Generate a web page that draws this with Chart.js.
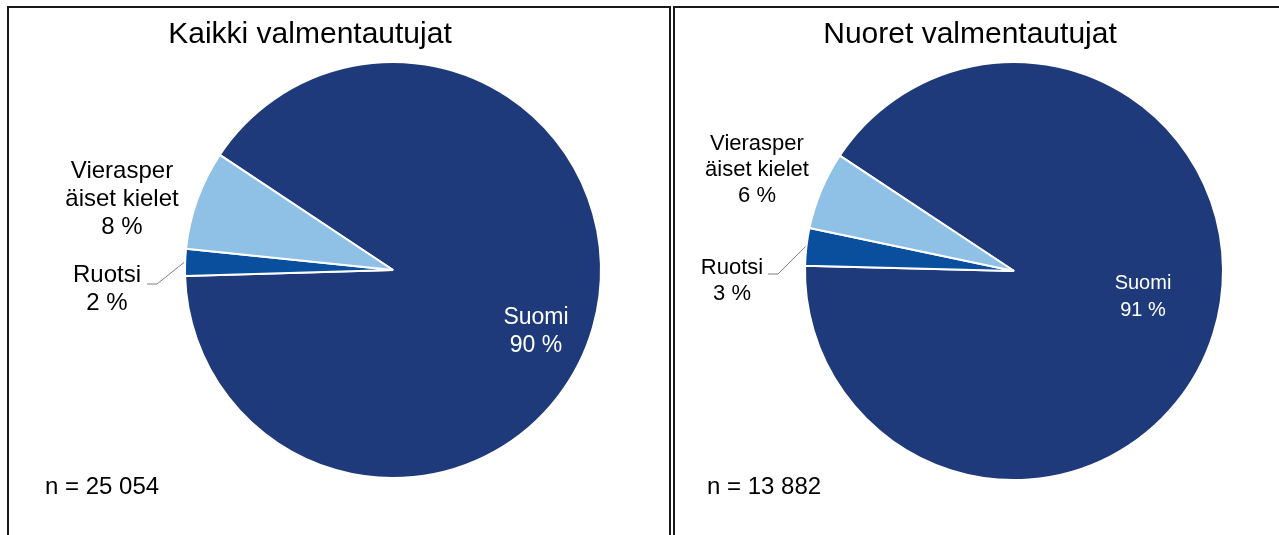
<!DOCTYPE html>
<html>
<head>
<meta charset="utf-8">
<script src="https://cdn.jsdelivr.net/npm/chart.js@4.4.1/dist/chart.umd.min.js"></script>
<style>
html,body{margin:0;padding:0;background:#fff;}
#wrap{position:relative;width:1279px;height:535px;overflow:hidden;}
canvas{position:absolute;left:0;top:0;}
</style>
</head>
<body>
<div id="wrap">
<canvas id="c1" width="1279" height="535"></canvas>
<canvas id="c2" width="1279" height="535"></canvas>
</div>
<script>
// ---- data ----
const categories = ["Suomi", "Ruotsi", "Vieraskieliset"];
const labelLines = [["Suomi"], ["Ruotsi"], ["Vierasper", "äiset kielet"]];
const titles = ["Kaikki valmentautujat", "Nuoret valmentautujat"];
const allValues = [90.2, 2.1, 7.7];      // Kaikki valmentautujat (%)
const youngValues = [91.1, 2.9, 6.0];    // Nuoret valmentautujat (%)
const nLabels = ["n = 25 054", "n = 13 882"];
const colors = ["#1f3a7b", "#0a4f9e", "#8ec1e5"];

const FONT = '"Liberation Sans", Arial, sans-serif';
function pct(v){ return Math.round(v) + " %"; }

function drawText(ctx, lines, x, y, size, color, lh, align){
  ctx.save();
  ctx.font = size + "px " + FONT;
  ctx.fillStyle = color;
  ctx.textAlign = align || "center";
  ctx.textBaseline = "middle";
  lines.forEach((l,i)=>ctx.fillText(l, x, y + i*lh));
  ctx.restore();
}

function makePlugin(cfg){
  return {
    id: "annot" + cfg.idx,
    beforeDraw(chart){
      const ctx = chart.ctx;
      if (cfg.idx === 0) {
        ctx.save();
        ctx.fillStyle = "#fff";
        ctx.fillRect(0,0,chart.width,chart.height);
        ctx.strokeStyle = "#1a1a1a";
        ctx.lineWidth = 2;
        ctx.beginPath();
        ctx.moveTo(8, 540); ctx.lineTo(8, 7); ctx.lineTo(670, 7); ctx.lineTo(670, 540);
        ctx.moveTo(674, 540); ctx.lineTo(674, 7); ctx.lineTo(1285, 7);
        ctx.stroke();
        ctx.restore();
      }
    },
    afterDraw(chart){
      const ctx = chart.ctx;
      const vals = chart.data.datasets[0].data;
      drawText(ctx, [titles[cfg.idx]], cfg.titleX, 35, 30, "#000", 0);
      // Suomi inside label
      drawText(ctx, [labelLines[0][0], pct(vals[0])], cfg.suomi[0], cfg.suomi[1], cfg.inSize, "#fff", cfg.inLh);
      // Ruotsi outside label
      drawText(ctx, [labelLines[1][0], pct(vals[1])], cfg.ruotsi[0], cfg.ruotsi[1], cfg.outSize, "#000", cfg.outLh);
      // Vieraskieliset
      drawText(ctx, [labelLines[2][0], labelLines[2][1], pct(vals[2])], cfg.vieras[0], cfg.vieras[1], cfg.outSize, "#000", cfg.outLh);
      // n
      drawText(ctx, [nLabels[cfg.idx]], cfg.nX, 487, 24, "#000", 0, "left");
      // leader line for Ruotsi to its arc
      const arc = chart.getDatasetMeta(0).data[1];
      const mid = (arc.startAngle + arc.endAngle)/2;
      const ex = arc.x + Math.cos(mid)*arc.outerRadius;
      const ey = arc.y + Math.sin(mid)*arc.outerRadius;
      ctx.save();
      ctx.strokeStyle = "#7f7f7f";
      ctx.lineWidth = 1;
      ctx.beginPath();
      ctx.moveTo(cfg.leader[0], cfg.leader[1]);
      ctx.lineTo(cfg.leader[0] + 10, cfg.leader[1]);
      ctx.lineTo(ex - 1, ey);
      ctx.stroke();
      ctx.restore();
    }
  };
}

function makeChart(id, values, cfg){
  return new Chart(document.getElementById(id), {
    type: "pie",
    data: {
      labels: categories,
      datasets: [{
        data: values,
        backgroundColor: colors,
        borderColor: "#ffffff",
        borderWidth: 2
      }]
    },
    options: {
      responsive: false,
      animation: false,
      rotation: cfg.rotation,
      layout: { padding: cfg.padding },
      plugins: { legend: { display: false }, tooltip: { enabled: false }, title: { display: false } },
      events: []
    },
    plugins: [makePlugin(cfg)]
  });
}

makeChart("c1", allValues, {
  idx: 0,
  rotation: 303.6,
  padding: { left: 184, top: 61, right: 677, bottom: 56 },
  titleX: 310,
  suomi: [536, 318], inSize: 23, inLh: 28,
  ruotsi: [107, 275], vieras: [122, 171], outSize: 24, outLh: 28,
  leader: [147, 284],
  nX: 45
});
makeChart("c2", youngValues, {
  idx: 1,
  rotation: 303.5,
  padding: { left: 804, top: 61, right: 55, bottom: 54 },
  titleX: 970,
  suomi: [1143, 283], inSize: 20, inLh: 27,
  ruotsi: [732, 268], vieras: [757, 144], outSize: 22, outLh: 26,
  leader: [768, 274],
  nX: 707
});
</script>
</body>
</html>
